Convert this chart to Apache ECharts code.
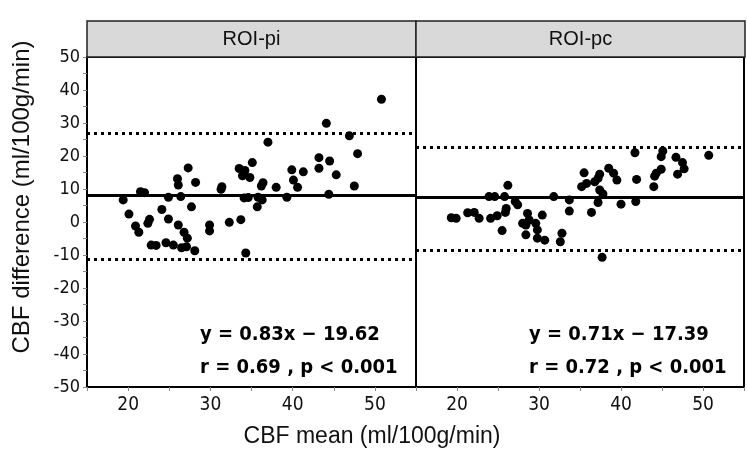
<!DOCTYPE html>
<html>
<head>
<meta charset="utf-8">
<script src="https://cdn.jsdelivr.net/npm/echarts@6/dist/echarts.min.js"></script>
<style>
  html, body { margin: 0; background: #fff; }
  #chart { width: 747px; height: 459px; }
</style>
</head>
<body>
<div id="chart"></div>
<script>
// panel titles
const panelNames = ['ROI-pi', 'ROI-pc']

// [CBF mean, CBF difference]
const piPoints = [
  [50.8, 37.2], [44.1, 29.9], [46.9, 26.1], [37.0, 24.2], [47.9, 20.7], [43.2, 19.5],
  [44.5, 18.5], [43.2, 16.3], [35.1, 18.0], [33.5, 16.2], [34.2, 15.6], [33.9, 14.0],
  [34.8, 13.5], [39.9, 15.8], [41.3, 15.2], [40.1, 12.7], [40.6, 10.5], [38.0, 10.5],
  [36.4, 11.9], [36.2, 10.9], [45.3, 14.3], [47.5, 10.9], [44.4, 8.4], [39.3, 7.5],
  [27.3, 16.4], [26.0, 13.1], [26.1, 11.2], [28.2, 12.0], [31.4, 10.7], [31.3, 9.9],
  [21.5, 9.2], [22.0, 8.9], [19.4, 6.7], [24.9, 7.5], [26.4, 7.7], [34.1, 7.3],
  [34.6, 7.4], [35.8, 7.5], [36.3, 6.7], [27.7, 4.6], [35.7, 4.6], [20.1, 2.4],
  [20.9, -1.2], [21.3, -3.1], [22.6, 0.8], [22.4, -0.4], [24.1, 3.8], [24.9, 0.9],
  [26.1, -0.9], [26.8, -3.1], [27.2, -4.9], [22.8, -7.0], [23.4, -7.1], [24.6, -6.3],
  [25.5, -7.0], [26.5, -7.8], [27.1, -7.5], [28.1, -8.7], [29.9, -0.9], [29.9, -2.7],
  [32.3, -0.1], [33.7, 0.7], [34.3, -9.4]
]

const pcPoints = [
  [50.7, 20.2], [41.7, 21.0], [45.1, 21.5], [44.9, 19.8], [46.7, 19.6], [47.5, 18.0],
  [47.7, 16.1], [46.9, 14.5], [44.9, 16.0], [44.3, 14.8], [44.1, 13.9], [41.9, 12.9],
  [44.0, 10.7], [35.5, 14.9], [37.4, 14.5], [37.2, 13.2], [36.8, 12.2], [38.5, 16.3],
  [39.1, 14.8], [39.5, 12.7], [35.2, 10.7], [35.8, 11.7], [37.4, 9.7], [37.8, 8.5],
  [26.2, 11.1], [23.9, 7.7], [24.6, 7.7], [25.8, 7.7], [27.1, 6.2], [27.4, 5.2],
  [31.8, 7.7], [33.7, 6.7], [37.2, 5.9], [40.0, 5.4], [41.8, 6.2], [19.3, 1.3],
  [19.9, 1.1], [21.3, 2.8], [22.1, 2.9], [22.7, 1.1], [24.1, 1.1], [24.9, 1.9],
  [26.0, 4.1], [25.9, 2.9], [25.5, -2.6], [28.6, 2.6], [28.0, -0.4], [28.4, -0.9],
  [28.8, 0.6], [29.6, -0.4], [29.8, -2.4], [28.4, -3.9], [29.8, -4.9], [30.7, -5.5],
  [30.4, 2.1], [32.8, -3.4], [32.6, -6.0], [33.7, 3.3], [36.4, 2.9], [37.7, -10.7]
]

// mean difference and limits of agreement per panel
const meanDiff = [8.0, 7.5]
const upperLimit = [26.9, 22.8]
const lowerLimit = [-11.3, -8.5]

const fitLines = ['y = 0.83x \u2212 19.62', 'y = 0.71x \u2212 17.39']
const corrLines = ['r = 0.69 , p < 0.001', 'r = 0.72 , p < 0.001']

const xRange = [15, 55]
const yRange = [-50, 50]

const font = 'Liberation Sans, Arial, sans-serif'
const narrow = '"DejaVu Sans Condensed", "Liberation Sans", sans-serif'
const chart = echarts.init(document.getElementById('chart'))

const grids = [
  { left: 87, top: 57, width: 329, height: 330 },
  { left: 416, top: 57, width: 329, height: 330 }
]

const tenOnly = (v) => (v % 10 === 0 ? String(v) : '')

const xAxes = grids.map((g, i) => ({
  type: 'value',
  gridIndex: i,
  min: xRange[0],
  max: xRange[1],
  interval: 5,
  splitLine: { show: false },
  axisLine: { show: true, onZero: false, lineStyle: { color: '#000', width: 2 } },
  axisTick: { show: true, length: 4, lineStyle: { color: '#888' } },
  axisLabel: {
    formatter: tenOnly, color: '#111', fontSize: 19, fontFamily: narrow, margin: 9,
    showMinLabel: true, showMaxLabel: true
  }
}))

const yAxes = grids.map((g, i) => ({
  type: 'value',
  gridIndex: i,
  min: yRange[0],
  max: yRange[1],
  interval: 5,
  splitLine: { show: false },
  axisLine: { show: true, onZero: false, lineStyle: { color: '#000', width: 2 } },
  axisTick: { show: i === 0, length: 4, lineStyle: { color: '#888' } },
  axisLabel: {
    show: i === 0, formatter: tenOnly, color: '#111', fontSize: 18, fontFamily: narrow, margin: 7
  }
}))

const seriesList = [piPoints, pcPoints].map((pts, i) => ({
  type: 'scatter',
  xAxisIndex: i,
  yAxisIndex: i,
  data: pts,
  symbolSize: 9,
  itemStyle: { color: '#000', opacity: 1 },
  z: 3,
  markLine: {
    silent: true,
    symbol: 'none',
    label: { show: false },
    animation: false,
    data: [
      { yAxis: meanDiff[i], lineStyle: { type: 'solid', width: 3, color: '#000' } },
      { yAxis: upperLimit[i], lineStyle: { type: [3, 4], width: 3, color: '#000' } },
      { yAxis: lowerLimit[i], lineStyle: { type: [3, 4], width: 3, color: '#000' } }
    ]
  }
}))

const graphics = []
grids.forEach((g, i) => {
  // panel header strip
  graphics.push({
    type: 'rect',
    shape: { x: g.left, y: 21, width: g.width, height: 36 },
    style: { fill: '#d9d9d9', stroke: '#222', lineWidth: 1.5 },
    z: 10
  })
  graphics.push({
    type: 'text',
    x: g.left + g.width / 2,
    y: 39,
    style: {
      text: panelNames[i], fill: '#111', fontSize: 20, fontFamily: font,
      align: 'center', verticalAlign: 'middle'
    },
    z: 11
  })
  // regression annotation
  graphics.push({
    type: 'text',
    x: g.left + 113,
    y: 335,
    style: {
      text: fitLines[i], fill: '#000', fontSize: 20, fontWeight: 'bold', fontFamily: narrow,
      align: 'left', verticalAlign: 'middle'
    },
    z: 11
  })
  graphics.push({
    type: 'text',
    x: g.left + 113,
    y: 368,
    style: {
      text: corrLines[i], fill: '#000', fontSize: 20, fontWeight: 'bold', fontFamily: narrow,
      align: 'left', verticalAlign: 'middle'
    },
    z: 11
  })
})

// axis titles
graphics.push({
  type: 'text',
  x: 372,
  y: 437,
  style: {
    text: 'CBF mean (ml/100g/min)', fill: '#111', fontSize: 23, fontFamily: font,
    align: 'center', verticalAlign: 'middle'
  }
})
graphics.push({
  type: 'text',
  x: 22,
  y: 197,
  rotation: Math.PI / 2,
  style: {
    text: 'CBF difference (ml/100g/min)', fill: '#111', fontSize: 24, fontFamily: font,
    align: 'center', verticalAlign: 'middle'
  }
})

chart.setOption({
  animation: false,
  backgroundColor: '#fff',
  grid: grids.map((g) => ({ ...g, show: true, borderColor: '#000', borderWidth: 2, backgroundColor: 'transparent' })),
  xAxis: xAxes,
  yAxis: yAxes,
  series: seriesList,
  graphic: graphics
})
</script>
</body>
</html>
